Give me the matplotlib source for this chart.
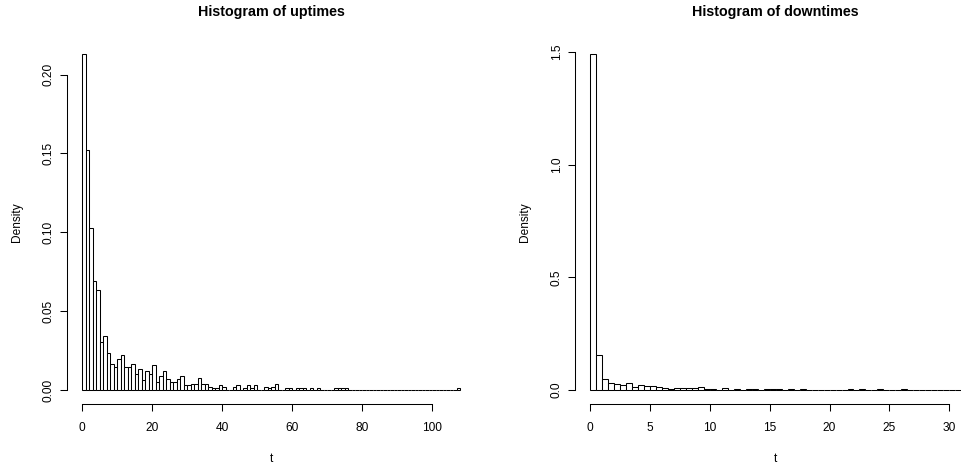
import matplotlib
matplotlib.use("Agg")
import matplotlib.pyplot as plt
import numpy as np

plt.rcParams["font.family"] = ["Liberation Sans", "DejaVu Sans"]

# ── uptimes: density per 1-unit bin, bins start at 0 ─────────────────────────
up_width = 1.0
up_density = [
    0.213, 0.152, 0.103, 0.069, 0.0635, 0.0303, 0.0343, 0.0235, 0.0163, 0.0144,
    0.0195, 0.0224, 0.0144, 0.0144, 0.0163, 0.0104, 0.0133, 0.0061, 0.0122, 0.0102,
    0.0161, 0.0054, 0.0091, 0.0122, 0.0072, 0.0054, 0.0054, 0.0072, 0.0091, 0.0032,
    0.0032, 0.0036, 0.0040, 0.0078, 0.0040, 0.0040, 0.0019, 0.0011, 0.0013, 0.0030,
    0.0019, 0.0, 0.0, 0.0019, 0.0030, 0.0, 0.0011, 0.0030, 0.0011, 0.0030,
    0.0, 0.0, 0.0019, 0.0011, 0.0019, 0.0040, 0.0, 0.0, 0.0011, 0.0011,
    0.0, 0.0011, 0.0011, 0.0011, 0.0, 0.0011, 0.0, 0.0011, 0.0, 0.0,
    0.0, 0.0, 0.0011, 0.0011, 0.0011, 0.0011, 0.0, 0.0, 0.0, 0.0,
    0.0, 0.0, 0.0, 0.0, 0.0, 0.0, 0.0, 0.0, 0.0, 0.0,
    0.0, 0.0, 0.0, 0.0, 0.0, 0.0, 0.0, 0.0, 0.0, 0.0,
    0.0, 0.0, 0.0, 0.0, 0.0, 0.0, 0.0, 0.0011,
]
up_xticks = [0, 20, 40, 60, 80, 100]
up_yticks = [0.00, 0.05, 0.10, 0.15, 0.20]
up_ylabels = ["0.00", "0.05", "0.10", "0.15", "0.20"]

# ── downtimes: density per 0.5-unit bin, bins start at 0 ─────────────────────
down_width = 0.5
down_density = [
    1.49, 0.155, 0.049, 0.031, 0.026, 0.022, 0.031, 0.013, 0.022, 0.020,
    0.018, 0.013, 0.0080, 0.0044, 0.0088, 0.0088, 0.0088, 0.0088, 0.013, 0.0044,
    0.0044, 0.0, 0.0088, 0.0, 0.0044, 0.0, 0.0044, 0.0044, 0.0, 0.0044,
    0.0044, 0.0044, 0.0, 0.0044, 0.0, 0.0044, 0.0, 0.0, 0.0, 0.0,
    0.0, 0.0, 0.0, 0.0044, 0.0, 0.0044, 0.0, 0.0, 0.0044, 0.0,
    0.0, 0.0, 0.0044, 0.0, 0.0, 0.0, 0.0, 0.0, 0.0, 0.0,
    0.0, 0.0,
]
down_xticks = [0, 5, 10, 15, 20, 25, 30]
down_yticks = [0.0, 0.5, 1.0, 1.5]
down_ylabels = ["0.0", "0.5", "1.0", "1.5"]


def r_hist(ax, width, density, xticks, yticks, ylabels, title):
    dens = np.array(density)
    left = np.arange(len(dens)) * width
    ax.bar(left, dens, width=width, align="edge", color="white",
           edgecolor="black", linewidth=0.75)
    xmax = len(dens) * width
    ymax = dens.max()
    ax.set_xlim(-0.04 * xmax, 1.04 * xmax)
    ax.set_ylim(-0.04 * ymax, 1.04 * ymax)

    for s in ["top", "right"]:
        ax.spines[s].set_visible(False)
    ax.spines["left"].set_bounds(yticks[0], yticks[-1])
    ax.spines["bottom"].set_bounds(xticks[0], xticks[-1])
    for s in ["left", "bottom"]:
        ax.spines[s].set_linewidth(0.75)

    ax.set_xticks(xticks)
    ax.set_yticks(yticks)
    ax.set_yticklabels(ylabels, rotation=90, va="center")
    ax.tick_params(direction="out", length=5, width=0.75, labelsize=8.6, pad=8)
    ax.tick_params(axis="y", pad=4)

    ax.set_title(title, fontsize=10.3, fontweight="bold", pad=18)
    ax.set_xlabel("t", fontsize=8.6, labelpad=14)
    ax.set_ylabel("Density", fontsize=8.6, labelpad=14)


fig = plt.figure(figsize=(9.61, 4.66), dpi=100)
ax1 = fig.add_axes([0.0699, 0.134, 0.4248, 0.779])
ax2 = fig.add_axes([0.5984, 0.134, 0.4174, 0.779])

r_hist(ax1, up_width, up_density, up_xticks, up_yticks, up_ylabels,
       "Histogram of uptimes")
r_hist(ax2, down_width, down_density, down_xticks, down_yticks, down_ylabels,
       "Histogram of downtimes")

fig.savefig("out.png", dpi=100)
